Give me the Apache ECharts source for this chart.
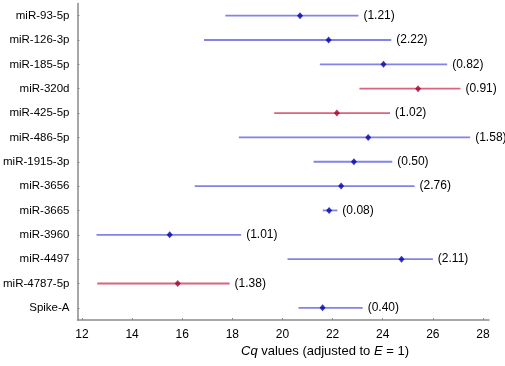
<!DOCTYPE html>
<html><head><meta charset="utf-8">
<script src="https://cdn.jsdelivr.net/npm/echarts@6/dist/echarts.min.js"></script>
<style>html,body{margin:0;padding:0;background:#fff}#c{width:505px;height:366px}</style>
</head><body><div id="c"></div>
<script>
var categories = ['miR-93-5p','miR-126-3p','miR-185-5p','miR-320d','miR-425-5p','miR-486-5p','miR-1915-3p','miR-3656','miR-3665','miR-3960','miR-4497','miR-4787-5p','Spike-A'];
var centerValues = [20.70, 21.84, 24.03, 25.41, 22.17, 23.42, 22.85, 22.34, 21.86, 15.50, 24.75, 15.82, 21.60];
var lowValues    = [17.72, 16.87, 21.49, 23.07, 19.67, 18.26, 21.24, 16.50, 21.61, 12.58, 20.20, 12.61, 20.64];
var highValues   = [23.03, 24.34, 26.57, 27.10, 24.29, 27.49, 24.38, 25.27, 22.19, 18.35, 26.00, 17.89, 23.20];
var cvLabels     = ['1.21','2.22','0.82','0.91','1.02','1.58','0.50','2.76','0.08','1.01','2.11','1.38','0.40'];
var redGroup     = ['miR-320d','miR-425-5p','miR-4787-5p'];
var xTicks = [12,14,16,18,20,22,24,26,28];

var BLUE_LINE='#8282e8', BLUE_PT='#0000aa', RED_LINE='#d8647e', RED_PT='#a0002f';
function isRed(i){return redGroup.indexOf(categories[i])>=0;}

var barData = categories.map(function(c,i){return [lowValues[i], highValues[i], i, cvLabels[i]];});
var ptBlue = [], ptRed = [];
categories.forEach(function(c,i){ (isRed(i)?ptRed:ptBlue).push([centerValues[i], c]); });

var chart = echarts.init(document.getElementById('c'), null, {renderer:'canvas'});
var font = 'Liberation Sans, Arial, sans-serif';
chart.setOption({
  animation:false,
  grid:{left:73, right:16, top:3.5, bottom:46},
  xAxis:{type:'value', min:11.82, max:28.24,
    axisLine:{show:true, onZero:false, lineStyle:{color:'#8a8a8a', width:1.5}},
    axisTick:{show:true, inside:true, length:2, customValues:xTicks, lineStyle:{color:'#8a8a8a'}},
    axisLabel:{customValues:xTicks, color:'#000', fontSize:12, fontFamily:font, margin:9},
    splitLine:{show:false}},
  yAxis:{type:'category', data:categories, inverse:true,
    axisLine:{show:true, lineStyle:{color:'#8a8a8a', width:1.5}},
    axisTick:{show:true, inside:true, length:2, alignWithLabel:true, lineStyle:{color:'#8a8a8a'}},
    axisLabel:{color:'#000', fontSize:11.5, fontFamily:font, margin:8},
    splitLine:{show:false}},
  graphic:[{type:'text', left:241, top:345, style:{
    text:'{i|Cq} values (adjusted to {i|E} = 1)', fill:'#000', font:'13px '+font,
    rich:{i:{fontStyle:'italic', fontSize:13, fontFamily:font, fill:'#000'}}}}],
  series:[
    {type:'custom', data:barData, encode:{x:[0,1], y:2},
     renderItem:function(params, api){
       var i = api.value(2);
       var p1 = api.coord([api.value(0), categories[i]]);
       var p2 = api.coord([api.value(1), categories[i]]);
       var red = isRed(i);
       return {type:'group', children:[
         {type:'line', shape:{x1:p1[0], y1:p1[1], x2:p2[0], y2:p2[1]},
          style:{stroke: red?RED_LINE:BLUE_LINE, lineWidth:1.8}},
         {type:'text', x:p2[0]+5, y:p1[1], style:{text:'('+cvLabels[i]+')', fill:'#000',
          font:'12px '+font, verticalAlign:'middle', align:'left'}}
       ]};
     }, z:2},
    {type:'scatter', data:ptBlue, symbol:'diamond', symbolSize:[6,7], itemStyle:{color:BLUE_PT}, z:3},
    {type:'scatter', data:ptRed, symbol:'diamond', symbolSize:[6,7], itemStyle:{color:RED_PT}, z:3}
  ]
});
</script></body></html>
